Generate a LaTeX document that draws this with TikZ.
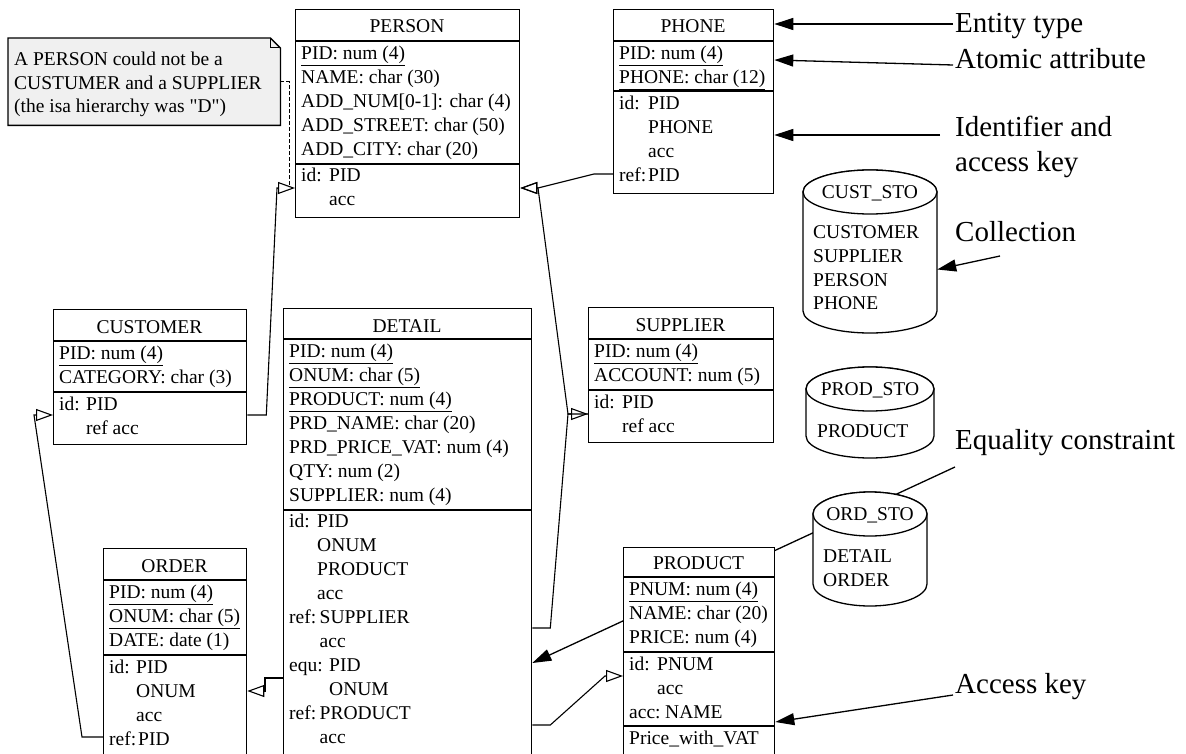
\documentclass[tikz,border=0pt]{standalone}
\usepackage{fontspec}
\setmainfont{Liberation Serif}
\usetikzlibrary{arrows.meta,backgrounds}
\tikzset{>=Latex,
  every node/.style={font=\fontsize{19.5}{23.5}\selectfont,inner sep=0pt},
  tbl/.style={draw,fill=white,line width=1.3pt,anchor=north west},
  ttl/.style={anchor=base},
  row/.style={anchor=base west},
  rule/.style={line width=1.3pt},
  drum/.style={draw,fill=white,line width=1.3pt},
  notebox/.style={draw,fill=black!6,line width=1.3pt},
  notelink/.style={dash pattern=on 4pt off 2pt,line width=1pt},
  reflink/.style={line width=1.1pt,-{Triangle[open,length=17pt,width=12pt]}},
  pointer/.style={line width=1.3pt,-{Triangle[length=19pt,width=12pt]}},
  callout/.style={anchor=base west,font=\fontsize{29}{35}\selectfont}}
\begin{document}
\begin{tikzpicture}[x=1pt,y=-1pt]
\useasboundingbox (0,0) rectangle (1186,754);
\clip (0,0) rectangle (1186,754);
% note
\node[minimum width=272,minimum height=87,anchor=north west] (note) at (8,38) {};
\draw[notebox] (note.north west) -- ([xshift=-10pt]note.north east) -- ([yshift=-10pt]note.north east) -- (note.south east) -- (note.south west) -- cycle;
\draw[line width=1pt] ([xshift=-10pt]note.north east) |- ([yshift=-10pt]note.north east);
\foreach \t [count=\i from 0] in {A PERSON could not be a,CUSTUMER and a SUPPLIER,(the isa hierarchy was \textquotedbl D\textquotedbl)}
  \node[row] (note-\i) at (14,66+23.5*\i) {\t};
% PERSON
\node[tbl,minimum width=224,minimum height=208] (person) at (295,9) {};
\node[ttl] (person-t) at (407,33) {PERSON};
\draw[rule] (person.west |- 0,41) -- (person.east |- 0,41) (person.west |- 0,164) -- (person.east |- 0,164);
\foreach \t [count=\i from 0] in {\underline{PID: num (4)},NAME: char (30),ADD\_NUM[0-1]: char (4),ADD\_STREET: char (50),ADD\_CITY: char (20)}
  \node[row] (person-a\i) at (301,59.5+24*\i) {\t};
\foreach \w/\k/\v [count=\i from 0] in {28/id:/PID,28//acc}
  \node[row] (person-g\i) at (301,181.5+24*\i) {\makebox[\w pt][l]{\k}\v};
% PHONE
\node[tbl,minimum width=160,minimum height=184] (phone) at (613,9) {};
\node[ttl] (phone-t) at (693,33) {PHONE};
\draw[rule] (phone.west |- 0,41) -- (phone.east |- 0,41) (phone.west |- 0,91) -- (phone.east |- 0,91);
\foreach \t [count=\i from 0] in {\underline{PID: num (4)},\underline{PHONE: char (12)}}
  \node[row] (phone-a\i) at (619,59.5+24*\i) {\t};
\foreach \w/\k/\v [count=\i from 0] in {29/id:/PID,29//PHONE,29//acc,29/ref:/PID}
  \node[row] (phone-g\i) at (619,109.5+24*\i) {\makebox[\w pt][l]{\k}\v};
% CUSTOMER
\node[tbl,minimum width=193,minimum height=135] (customer) at (53,309) {};
\node[ttl] (customer-t) at (149.5,333) {CUSTOMER};
\draw[rule] (customer.west |- 0,341) -- (customer.east |- 0,341) (customer.west |- 0,392) -- (customer.east |- 0,392);
\foreach \t [count=\i from 0] in {\underline{PID: num (4)},CATEGORY: char (3)}
  \node[row] (customer-a\i) at (59,359.5+24*\i) {\t};
\foreach \w/\k/\v [count=\i from 0] in {27/id:/PID,27//ref acc}
  \node[row] (customer-g\i) at (59,410.5+24*\i) {\makebox[\w pt][l]{\k}\v};
% DETAIL
\node[tbl,minimum width=248,minimum height=470] (detail) at (283,308) {};
\node[ttl] (detail-t) at (407,332) {DETAIL};
\draw[rule] (detail.west |- 0,339) -- (detail.east |- 0,339) (detail.west |- 0,510) -- (detail.east |- 0,510);
\foreach \t [count=\i from 0] in {\underline{PID: num (4)},\underline{ONUM: char (5)},\underline{PRODUCT: num (4)},PRD\_NAME: char (20),PRD\_PRICE\_VAT: num (4),QTY: num (2),SUPPLIER: num (4)}
  \node[row] (detail-a\i) at (289,357.5+24*\i) {\t};
\foreach \w/\k/\v [count=\i from 0] in {28/id:/PID,28//ONUM,28//PRODUCT,28//acc,30.5/ref:/SUPPLIER,30.5//acc,40/equ:/PID,40//ONUM,30.5/ref:/PRODUCT,30.5//acc}
  \node[row] (detail-g\i) at (289,527.5+24*\i) {\makebox[\w pt][l]{\k}\v};
% SUPPLIER
\node[tbl,minimum width=185,minimum height=135] (supplier) at (588,307) {};
\node[ttl] (supplier-t) at (680.5,331) {SUPPLIER};
\draw[rule] (supplier.west |- 0,339) -- (supplier.east |- 0,339) (supplier.west |- 0,390) -- (supplier.east |- 0,390);
\foreach \t [count=\i from 0] in {\underline{PID: num (4)},ACCOUNT: num (5)}
  \node[row] (supplier-a\i) at (594,357.5+24*\i) {\t};
\foreach \w/\k/\v [count=\i from 0] in {28/id:/PID,28//ref acc}
  \node[row] (supplier-g\i) at (594,408.5+24*\i) {\makebox[\w pt][l]{\k}\v};
% ORDER
\node[tbl,minimum width=143,minimum height=230] (order) at (103,548) {};
\node[ttl] (order-t) at (174.5,572) {ORDER};
\draw[rule] (order.west |- 0,580) -- (order.east |- 0,580) (order.west |- 0,655) -- (order.east |- 0,655);
\foreach \t [count=\i from 0] in {\underline{PID: num (4)},\underline{ONUM: char (5)},DATE: date (1)}
  \node[row] (order-a\i) at (109,598.5+24*\i) {\t};
\foreach \w/\k/\v [count=\i from 0] in {27/id:/PID,27//ONUM,27//acc,29/ref:/PID}
  \node[row] (order-g\i) at (109,673.5+24*\i) {\makebox[\w pt][l]{\k}\v};
% PRODUCT
\node[tbl,minimum width=151,minimum height=230] (product) at (623,547) {};
\node[ttl] (product-t) at (698.5,569) {PRODUCT};
\draw[rule] (product.west |- 0,577) -- (product.east |- 0,577) (product.west |- 0,652) -- (product.east |- 0,652) (product.west |- 0,726) -- (product.east |- 0,726);
\foreach \t [count=\i from 0] in {\underline{PNUM: num (4)},NAME: char (20),PRICE: num (4)}
  \node[row] (product-a\i) at (629,595.5+24*\i) {\t};
\foreach \w/\k/\v [count=\i from 0] in {28/id:/PNUM,28//acc,36/acc:/NAME}
  \node[row] (product-g\i) at (629,670.5+24*\i) {\makebox[\w pt][l]{\k}\v};
\node[row] (product-x) at (629,744.5) {Price\_with\_VAT};
% collections
\foreach \nm/\cx/\ty/\rx/\by in {custsto/870/192/67/311,prodsto/870/389/64/436,ordsto/870/514/57/584}{
  \draw[drum] (\cx-\rx,\ty) -- (\cx-\rx,\by) arc[start angle=180,end angle=360,x radius=\rx pt,y radius=22pt]
    -- (\cx+\rx,\ty) arc[start angle=0,end angle=180,x radius=\rx pt,y radius=22pt] -- cycle;
  \draw[drum] (\cx,\ty) ellipse[x radius=\rx pt,y radius=22pt];
  \node[minimum width=2*\rx,minimum height=\by-\ty+44] (\nm) at (\cx,{(\ty+\by)/2}) {};
}
\node[ttl] (custsto-t) at (870,198.5) {CUST\_STO};
\foreach \t [count=\i from 0] in {CUSTOMER,SUPPLIER,PERSON,PHONE}
  \node[row] (custsto-\i) at (813,239+23.5*\i) {\t};
\node[ttl] (prodsto-t) at (870,395) {PROD\_STO};
\node[row] (prodsto-0) at (817,437) {PRODUCT};
\node[ttl] (ordsto-t) at (870,520) {ORD\_STO};
\foreach \t [count=\i from 0] in {DETAIL,ORDER}
  \node[row] (ordsto-\i) at (823,562+24*\i) {\t};
% references
\coordinate (person-isa) at (289,187);
\draw[notelink] (note.east) -| (person-isa);
\draw[reflink] (customer.east |- 0,415) -- ++(19,0) -- (277,188) -- (person.west |- 0,188);
\draw[reflink] (phone.west |- 0,174) -- ++(-19,0) -- (538,188) -- (person.east |- 0,188);
\draw[reflink] (supplier.west |- 0,414) -- ++(-20,0) -- (538,188) -- (person.east |- 0,188);
\draw[reflink] (detail.east |- 0,628) -- ++(18,0) -- (568,414) -- (supplier.west |- 0,414);
\draw[reflink] (order.west |- 0,737) -- ++(-21,0) -- (34,415) -- (customer.west |- 0,415);
\draw[reflink] (detail.west |- 0,678) -- ++(-18,0) -- ++(0,13) -- (order.east |- 0,691);
\draw[reflink] (detail.east |- 0,725) -- ++(18,0) -- (605,676) -- (product.west |- 0,676);
% callouts
\node[callout] (lbl-ent) at (955,33) {Entity type};
\node[callout] (lbl-atom) at (955,69) {Atomic attribute};
\node[callout] (lbl-id) at (955,137) {Identifier and};
\node[callout] (lbl-id2) at (955,172) {access key};
\node[callout] (lbl-coll) at (955,242) {Collection};
\node[callout] (lbl-eq) at (955,449) {Equality constraint};
\node[callout] (lbl-acc) at (955,693) {Access key};
\coordinate (ent-p) at (953,24);
\coordinate (atom-p) at (953,65);
\coordinate (id-p) at (940,135);
\coordinate (coll-p) at (1000,256);
\coordinate (eq-p) at (955,467);
\coordinate (acc-p) at (953,695);
\draw[pointer] (ent-p) -- (phone.east |- ent-p);
\draw[pointer] (atom-p) -- (phone.east |- 0,60);
\draw[pointer] (id-p) -- (phone.east |- id-p);
\draw[pointer] (coll-p) -- ([yshift=-18pt]custsto.east);
\draw[pointer] (acc-p) -- (product.east |- 0,722);
\begin{scope}[on background layer]
\draw[pointer] (eq-p) -- (detail.east |- 0,663);
\end{scope}
\end{tikzpicture}
\end{document}
